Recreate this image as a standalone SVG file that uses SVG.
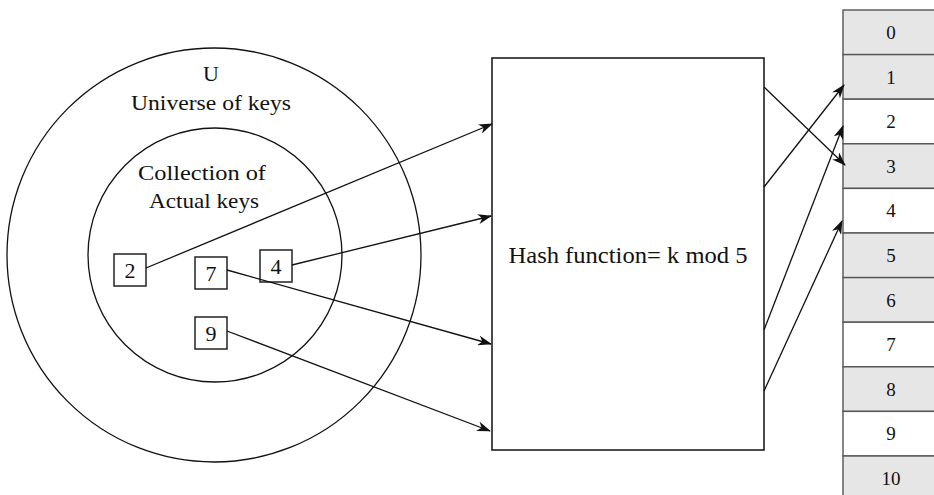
<svg xmlns="http://www.w3.org/2000/svg" width="934" height="495" viewBox="0 0 934 495">
<style>
text{font-family:"Liberation Serif","DejaVu Serif",serif;fill:#111;text-anchor:middle}
.ring{fill:none;stroke:#111;stroke-width:1.3}
.key{fill:#fff;stroke:#222;stroke-width:1.5}
.kt{font-size:22px}
.lbl{font-size:22px}
.cell{stroke:#555;stroke-width:1.4}
.g{fill:#e6e6e6}
.w{fill:#fff}
.ct{font-size:19px}
.conn path{fill:none;stroke:#111;stroke-width:1.3;marker-end:url(#ah)}
</style>
<defs>
<marker id="ah" viewBox="0 0 14 10" refX="13" refY="5" markerWidth="14" markerHeight="10" markerUnits="userSpaceOnUse" orient="auto">
<path d="M0,0 L14,5 L0,10 L4,5 z" fill="#111"/>
</marker>
</defs>
<rect width="934" height="495" fill="#fff"/>
<g id="universe">
<circle class="ring" cx="214" cy="255" r="207"/>
<text class="lbl" x="211" y="81">U</text>
<text class="lbl" x="211" y="110" textLength="160" lengthAdjust="spacingAndGlyphs">Universe of keys</text>
</g>
<g id="actual">
<circle class="ring" cx="215" cy="255" r="127"/>
<text class="lbl" x="202" y="180" textLength="128" lengthAdjust="spacingAndGlyphs">Collection of</text>
<text class="lbl" x="204" y="208" textLength="110" lengthAdjust="spacingAndGlyphs">Actual keys</text>
</g>
<g id="key2"><rect class="key" x="114" y="254" width="32" height="32"/><text class="kt" x="130" y="278">2</text></g>
<g id="key7"><rect class="key" x="195" y="257" width="32" height="32"/><text class="kt" x="211" y="281">7</text></g>
<g id="key4"><rect class="key" x="260" y="250" width="32" height="32"/><text class="kt" x="276" y="274">4</text></g>
<g id="key9"><rect class="key" x="195" y="317" width="32" height="32"/><text class="kt" x="211" y="341">9</text></g>
<g id="hash">
<rect x="492" y="58" width="272" height="392" fill="#fff" stroke="#111" stroke-width="1.5"/>
<text x="628" y="263" font-size="23px" textLength="239" lengthAdjust="spacingAndGlyphs">Hash function= k mod 5</text>
</g>
<g id="table">
<rect class="cell g" x="843" y="10" width="100" height="44.6"/>
<rect class="cell g" x="843" y="54.6" width="100" height="44.6"/>
<rect class="cell w" x="843" y="99.2" width="100" height="44.6"/>
<rect class="cell g" x="843" y="143.8" width="100" height="44.6"/>
<rect class="cell w" x="843" y="188.4" width="100" height="44.6"/>
<rect class="cell g" x="843" y="233" width="100" height="44.6"/>
<rect class="cell g" x="843" y="277.6" width="100" height="44.6"/>
<rect class="cell w" x="843" y="322.2" width="100" height="44.6"/>
<rect class="cell g" x="843" y="366.8" width="100" height="44.6"/>
<rect class="cell w" x="843" y="411.4" width="100" height="44.6"/>
<rect class="cell g" x="843" y="456" width="100" height="44.6"/>
<text class="ct" x="891" y="39">0</text>
<text class="ct" x="891" y="83.6">1</text>
<text class="ct" x="891" y="128.2">2</text>
<text class="ct" x="891" y="172.8">3</text>
<text class="ct" x="891" y="217.4">4</text>
<text class="ct" x="891" y="262">5</text>
<text class="ct" x="891" y="306.6">6</text>
<text class="ct" x="891" y="351.2">7</text>
<text class="ct" x="891" y="395.8">8</text>
<text class="ct" x="891" y="440.4">9</text>
<text class="ct" x="891" y="485">10</text>
</g>
<g id="connectors" class="conn">
<path d="M146,268 L492,124"/>
<path d="M292,265 L491,216"/>
<path d="M227,270 L491,344"/>
<path d="M227,331 L490,431"/>
<path d="M764,87 L845,165"/>
<path d="M764,187 L844,85"/>
<path d="M764,330 L843,126"/>
<path d="M764,391 L842,221"/>
</g>
</svg>
